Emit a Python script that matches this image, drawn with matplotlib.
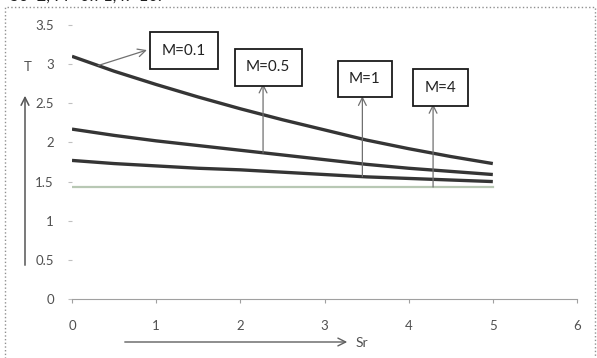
import numpy as np
import matplotlib
matplotlib.use('Agg')
import matplotlib.pyplot as plt
from matplotlib.patches import Rectangle, FancyArrowPatch

# Temperature T vs Soret number Sr for several M
sr = [0, 0.5, 1, 1.5, 2, 2.5, 3, 3.5, 4, 4.5, 5]
T_m01 = [3.10, 2.91, 2.74, 2.58, 2.43, 2.29, 2.16, 2.03, 1.92, 1.82, 1.73]
T_m05 = [2.17, 2.09, 2.02, 1.96, 1.90, 1.84, 1.78, 1.72, 1.67, 1.63, 1.59]
T_m1 = [1.77, 1.73, 1.70, 1.67, 1.65, 1.62, 1.59, 1.56, 1.54, 1.52, 1.50]
T_m4 = [1.43, 1.43, 1.43, 1.43, 1.43, 1.43, 1.43, 1.43, 1.43, 1.43, 1.43]
labels = ['M=0.1', 'M=0.5', 'M=1', 'M=4']

plt.rcParams['font.family'] = ['Lato', 'DejaVu Sans']
W, H = 597, 358
fig = plt.figure(figsize=(W / 100, H / 100), dpi=100)
ax = fig.add_axes([72 / W, 1 - 299 / H, (577 - 72) / W, (299 - 25) / H])

for ys in (T_m01, T_m05, T_m1):
    ax.plot(sr, ys, color='#353535', lw=2.4, solid_capstyle='butt')
ax.plot(sr, T_m4, color='#b8c8b4', lw=1.6)

ax.set_xlim(0, 6)
ax.set_ylim(0, 3.5)
ax.set_xticks(range(7))
ax.set_yticks(np.arange(0, 3.51, 0.5))
ax.set_yticklabels(['0', '0.5', '1', '1.5', '2', '2.5', '3', '3.5'])
for s in ('top', 'right', 'left'):
    ax.spines[s].set_visible(False)
ax.spines['bottom'].set_color('#a0a0a0')
ax.tick_params(axis='x', length=3, color='#a0a0a0', labelsize=9.5, labelcolor='#505050', pad=12)
ax.tick_params(axis='y', length=3, color='#c0c0c0', labelsize=9.5, labelcolor='#505050', pad=10)

# labelled boxes with arrows pointing from the curves
series = [T_m01, T_m05, T_m1, T_m4]
box_xy = [(1.33, 3.17), (2.33, 2.96), (3.48, 2.81), (4.38, 2.70)]
arrow_sr = [0.31, 2.27, 3.45, 4.29]
arrow_head = [(0.89, 3.18), (2.27, 2.75), (3.45, 2.59), (4.29, 2.49)]
for lab, ys, bxy, asr, head in zip(labels, series, box_xy, arrow_sr, arrow_head):
    tail = (asr, np.interp(asr, sr, ys))
    ax.annotate('', xy=head, xytext=tail,
                arrowprops=dict(arrowstyle='->', color='#707070', lw=0.9,
                                shrinkA=0, shrinkB=0, mutation_scale=14))
    ax.text(bxy[0], bxy[1], lab, ha='center', va='center', fontsize=11, color='#222222',
            bbox=dict(boxstyle='square,pad=0.75', fc='white', ec='#1a1a1a', lw=1.3))

# axis name arrows
fig.text(28 / W, 1 - 67 / H, 'T', ha='center', va='center', fontsize=9.5, color='#505050')
fig.add_artist(FancyArrowPatch(
    (25 / W, 1 - 268 / H), (25 / W, 1 - 93 / H), transform=fig.transFigure,
    arrowstyle='->', color='#555555', lw=1.1, mutation_scale=14))
fig.add_artist(FancyArrowPatch(
    (122 / W, 1 - 342 / H), (350 / W, 1 - 342 / H), transform=fig.transFigure,
    arrowstyle='->', color='#606060', lw=1.0, mutation_scale=14))
fig.text(356 / W, 1 - 343 / H, 'Sr', ha='left', va='center', fontsize=10, color='#505050')

# chart area border and the caption clipped at the top edge, as in the scan
fig.add_artist(Rectangle((5 / W, -0.02), 590 / W, 1.02 - 7 / H, transform=fig.transFigure,
                         fill=False, ec='#909090', lw=1.0, ls=':'))
fig.text(10 / W, 1 + 4 / H, 'Sc=2, Pr=0.71, k=10.', ha='left', va='center', fontsize=12, color='#202020')

fig.savefig('out.png', dpi=100)
